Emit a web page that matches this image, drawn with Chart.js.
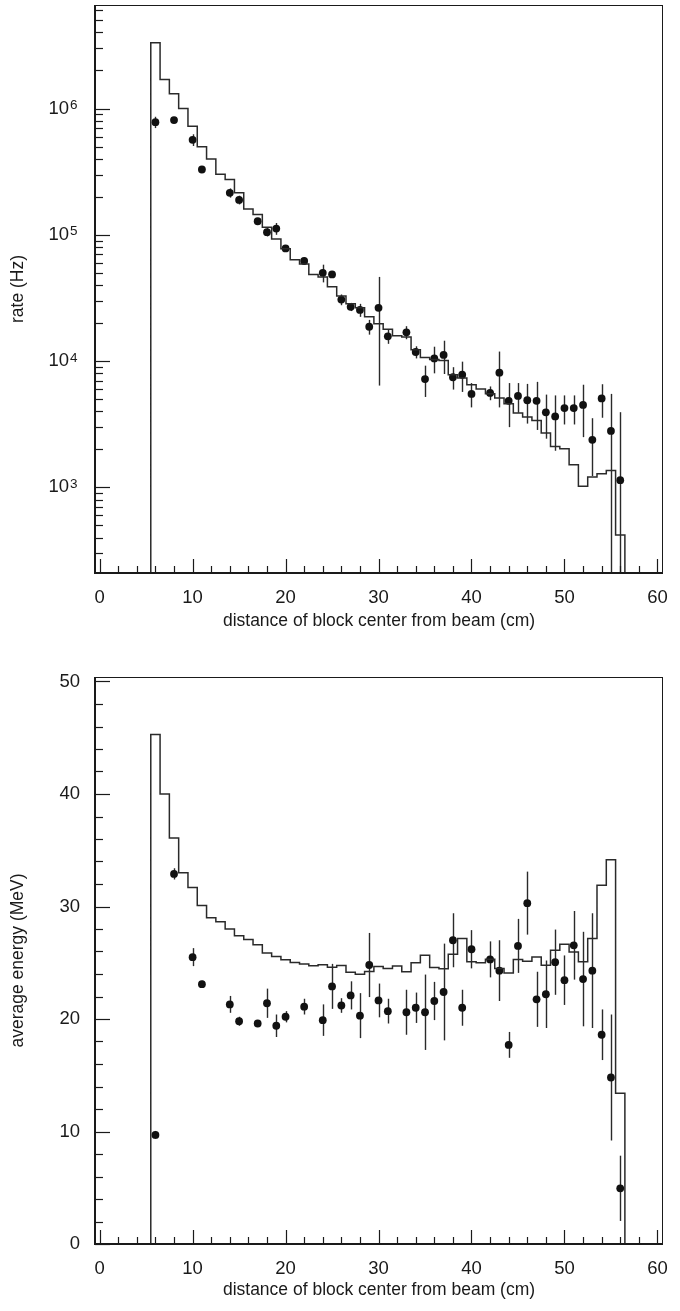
<!DOCTYPE html>
<html>
<head>
<meta charset="utf-8">
<title>rate and average energy vs distance</title>
<script src="https://cdn.jsdelivr.net/npm/chart.js@4.4.1/dist/chart.umd.min.js"></script>
<style>
  body { margin: 0; background: #fff; }
  .panel { position: relative; width: 680px; }
</style>
</head>
<body>
<div class="panel" style="height:645px"><canvas id="rateChart"></canvas></div>
<div class="panel" style="height:666px"><canvas id="energyChart"></canvas></div>
<script>
// bin centers of the simulated histograms (cm), 1 cm wide bins
const binCenters = [6,7,8,9,10,11,12,13,14,15,16,17,18,19,20,21,22,23,24,25,26,27,28,29,30,
  31,32,33,34,35,36,37,38,39,40,41,42,43,44,45,46,47,48,49,50,51,52,53,54,55,56];
const binWidth = 1;

// simulated rate (Hz) per bin
const rateSim = [3.31e6,1.70e6,1.31e6,1.00e6,7.24e5,4.97e5,3.99e5,3.02e5,2.74e5,2.15e5,
  1.60e5,1.45e5,1.15e5,9.27e4,7.74e4,6.35e4,5.88e4,4.85e4,4.64e4,3.87e4,
  3.28e4,2.85e4,2.64e4,2.24e4,1.98e4,1.79e4,1.59e4,1.55e4,1.23e4,1.07e4,
  1.03e4,1.01e4,7.8e3,7.35e3,6.5e3,6.0e3,5.52e3,5.1e3,4.6e3,3.88e3,
  3.61e3,3.39e3,2.69e3,2.11e3,2.02e3,1.51e3,1.02e3,1.21e3,1.28e3,1.36e3,419];

// simulated average energy (MeV) per bin
const energySim = [45.3,40.0,36.1,33.0,31.7,30.1,29.0,28.65,28.0,27.4,
  27.06,26.6,25.87,25.56,25.27,25.02,24.9,24.74,24.82,24.6,
  24.76,24.16,23.98,24.22,24.67,24.49,24.72,24.19,24.99,25.67,
  24.58,24.46,25.76,27.15,25.08,24.99,25.31,24.49,24.10,25.29,
  25.14,25.52,24.78,26.11,26.65,25.96,25.08,27.15,31.88,34.16,13.4];

// measured blocks
const dataX = [6,8,10,11,14,15,17,18,19,20,22,24,25,26,27,28,29,30,31,
  33,34,35,36,37,38,39,40,42,43,44,45,46,47,48,49,50,51,52,53,54,55,56];
const rateData = [7.8e5,8.1e5,5.65e5,3.29e5,2.15e5,1.89e5,1.28e5,1.05e5,1.12e5,7.8e4,
  6.2e4,5.0e4,4.86e4,3.07e4,2.69e4,2.54e4,1.87e4,2.64e4,1.57e4,
  1.69e4,1.18e4,7.2e3,1.05e4,1.12e4,7.45e3,7.8e3,5.5e3,
  5.6e3,8.1e3,4.85e3,5.3e3,4.9e3,4.85e3,3.93e3,3.65e3,4.25e3,4.25e3,4.5e3,2.38e3,5.06e3,2.8e3,1.14e3];
const rateErr = [8e4,3e4,6e4,1e4,1.8e4,1.5e4,8e3,8e3,1.2e4,4e3,
  4e3,8e3,3e3,3e3,2e3,3e3,2.5e3,2.0e4,2e3,
  2e3,1.3e3,2.0e3,2.5e3,3.3e3,1.5e3,2.1e3,1.2e3,
  7e2,3.8e3,1.85e3,1.4e3,1.7e3,2.0e3,1.5e3,1.7e3,1.1e3,1.1e3,2.0e3,1.15e3,1.5e3,2.7e3,2.8e3];
const energyData = [9.7,32.9,25.5,23.1,21.3,19.8,19.6,21.4,19.4,20.2,
  21.1,19.9,22.9,21.2,22.1,20.3,24.8,21.65,20.7,
  20.6,21.0,20.6,21.6,22.4,27.0,21.0,26.2,
  25.3,24.3,17.7,26.5,30.3,21.75,22.2,25.05,23.45,26.55,23.55,24.3,18.6,14.8,4.95];
const energyErr = [0.35,0.5,0.8,0.3,0.75,0.4,0.3,1.3,1.0,0.5,
  0.7,1.4,2.0,0.65,1.25,2.0,2.85,1.5,1.1,
  2.0,1.35,3.35,1.7,4.3,2.4,1.6,1.7,
  1.6,2.7,1.15,2.4,2.8,2.45,3.0,2.9,2.2,3.05,4.2,5.1,2.25,5.6,2.9];

// tick labels
const xTickLabels = [0,10,20,30,40,50,60];
const rateTickLabels = [1e3,1e4,1e5,1e6];
const energyTickLabels = [0,10,20,30,40,50];

const FONT = '"Liberation Sans", Arial, Helvetica, sans-serif';
const INK = '#1a1a1a';
Chart.defaults.font.family = FONT;
Chart.defaults.color = INK;

// outline of a histogram, going down to the axis at both ends
function histOutline(values, floor) {
  const pts = [{x: binCenters[0] - binWidth / 2, y: floor}];
  binCenters.forEach((c, i) => pts.push({x: c - binWidth / 2, y: values[i]}));
  pts.push({x: binCenters[binCenters.length - 1] + binWidth / 2, y: floor});
  return pts;
}

// inward ticks, frame, error bars and exponents, drawn with the chart's scales
const rootStyle = {
  id: 'rootStyle',
  beforeDatasetsDraw(chart, args, opts) {
    const {ctx, chartArea: a, scales: {x, y}} = chart;
    ctx.save();
    ctx.beginPath();
    ctx.rect(a.left, a.top, a.right - a.left, a.bottom - a.top);
    ctx.clip();
    ctx.strokeStyle = '#2a2a2a';
    ctx.lineWidth = 1.4;
    opts.xs.forEach((xv, i) => {
      const lo = opts.ys[i] - opts.errs[i];
      const hi = opts.ys[i] + opts.errs[i];
      const px = Math.round(x.getPixelForValue(xv)) + 0.5;
      const pLo = lo > y.min ? y.getPixelForValue(lo) : a.bottom;
      const pHi = y.getPixelForValue(hi);
      ctx.beginPath();
      ctx.moveTo(px, pLo);
      ctx.lineTo(px, pHi);
      ctx.stroke();
    });
    ctx.restore();
  },
  afterDraw(chart, args, opts) {
    const {ctx, chartArea: a, scales: {x, y}} = chart;
    ctx.save();
    ctx.strokeStyle = INK;
    // frame
    ctx.lineWidth = 1;
    ctx.strokeRect(a.left + 0.5, a.top + 0.5, a.right - a.left - 1, a.bottom - a.top);
    ctx.lineWidth = 2;
    ctx.beginPath();
    ctx.moveTo(a.left, a.top);
    ctx.lineTo(a.left, a.bottom);
    ctx.lineTo(a.right, a.bottom);
    ctx.stroke();
    // x ticks every 2 cm
    ctx.lineWidth = 1.2;
    for (let v = 0; v <= 60; v += 2) {
      const px = Math.round(x.getPixelForValue(v)) + 0.5;
      const len = v % 10 === 0 ? 14 : 7;
      ctx.beginPath();
      ctx.moveTo(px, a.bottom);
      ctx.lineTo(px, a.bottom - len);
      ctx.stroke();
    }
    // y ticks
    opts.yTicks(y).forEach(t => {
      const py = Math.round(y.getPixelForValue(t.v)) + 0.5;
      ctx.beginPath();
      ctx.moveTo(a.left, py);
      ctx.lineTo(a.left + (t.major ? 15 : 8), py);
      ctx.stroke();
    });
    // powers of ten: exponent next to the "10" tick label
    if (opts.exponents) {
      ctx.fillStyle = INK;
      ctx.font = '13.5px ' + FONT;
      ctx.textAlign = 'left';
      ctx.textBaseline = 'alphabetic';
      const xr = y.right - y.options.ticks.padding;
      rateTickLabels.forEach(v => {
        const py = y.getPixelForValue(v);
        ctx.fillText(String(Math.round(Math.log10(v))), xr + 1, py + 0.5);
      });
    }
    ctx.restore();
  }
};

function logTicks(scale) {
  const out = [];
  for (let k = 2; k <= 7; k++) {
    for (let m = 1; m <= 9; m++) {
      const v = m * Math.pow(10, k);
      if (v >= scale.min && v <= scale.max) out.push({v: v, major: m === 1});
    }
  }
  return out;
}
function linTicks(scale) {
  const out = [];
  for (let v = 0; v <= 50; v += 2) out.push({v: v, major: v % 10 === 0});
  return out;
}

const xTitle = 'distance of block center from beam (cm)';

function makeChart(id, o) {
  return new Chart(document.getElementById(id), {
    type: 'scatter',
    data: {
      datasets: [{
        type: 'line',
        data: histOutline(o.sim, o.yMin),
        stepped: true,
        showLine: true,
        borderColor: '#2a2a2a',
        borderWidth: 1.5,
        pointRadius: 0,
        fill: false
      }, {
        type: 'scatter',
        data: dataX.map((v, i) => ({x: v, y: o.data[i]})),
        pointRadius: 3.9,
        pointBackgroundColor: '#111',
        pointBorderWidth: 0
      }]
    },
    options: {
      responsive: true,
      maintainAspectRatio: false,
      animation: false,
      devicePixelRatio: 1,
      events: [],
      layout: {padding: {top: o.padTop, right: 17, left: 0, bottom: 0}},
      plugins: {
        legend: {display: false},
        tooltip: {enabled: false},
        rootStyle: {xs: dataX, ys: o.data, errs: o.err, yTicks: o.yTicks, exponents: o.exponents}
      },
      scales: {
        x: {
          type: 'linear',
          min: -0.5,
          max: 60.6,
          grid: {display: false, drawTicks: false},
          border: {display: false},
          afterBuildTicks: s => { s.ticks = xTickLabels.map(v => ({value: v})); },
          afterFit: s => { s.height = o.xHeight; s.paddingLeft = 0; s.paddingRight = 0; },
          ticks: {font: {size: 18.5}, padding: 14, autoSkip: false, maxRotation: 0},
          title: {display: true, text: xTitle, font: {size: 17.5}, padding: {top: 0, bottom: o.titlePad}}
        },
        y: {
          type: o.yType,
          min: o.yMin,
          max: o.yMax,
          grid: {display: false, drawTicks: false},
          border: {display: false},
          afterBuildTicks: s => { s.ticks = o.yLabels.map(v => ({value: v})); },
          afterFit: s => { s.width = 95; s.paddingTop = 0; s.paddingBottom = 0; },
          ticks: {font: {size: 18.5}, padding: o.yPad, callback: o.yFormat},
          title: {display: true, text: o.yTitle, font: {size: 17.5}, padding: {top: 8, bottom: 0}}
        }
      }
    },
    plugins: [rootStyle]
  });
}

makeChart('rateChart', {
  sim: rateSim, data: rateData, err: rateErr,
  yType: 'logarithmic', yMin: 210, yMax: 6.6e6,
  yLabels: rateTickLabels, yFormat: v => '10', yPad: 26, exponents: true, yTicks: logTicks,
  yTitle: 'rate (Hz)', padTop: 5, xHeight: 72, titlePad: 13
});

makeChart('energyChart', {
  sim: energySim, data: energyData, err: energyErr,
  yType: 'linear', yMin: 0, yMax: 50.4,
  yLabels: energyTickLabels, yFormat: v => String(v), yPad: 15, exponents: false, yTicks: linTicks,
  yTitle: 'average energy (MeV)', padTop: 32, xHeight: 67, titlePad: 10
});
</script>
</body>
</html>
